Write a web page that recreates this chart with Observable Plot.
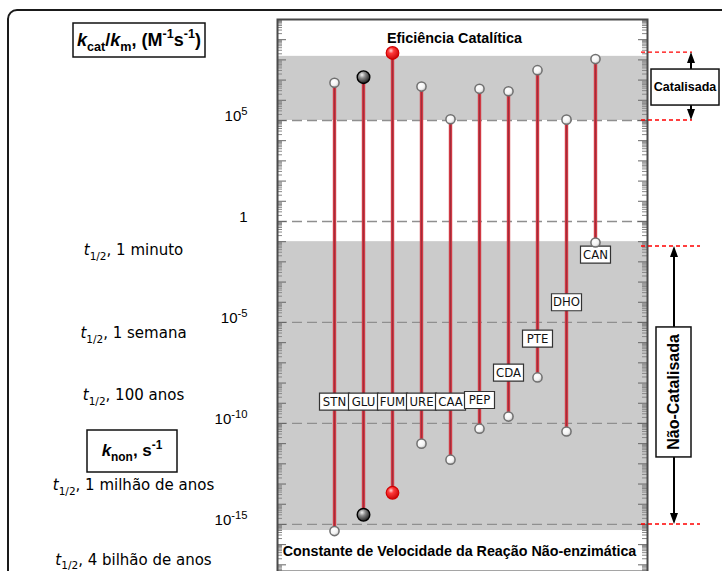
<!DOCTYPE html>
<html><head><meta charset="utf-8">
<script src="https://cdn.jsdelivr.net/npm/d3@7"></script>
<script src="https://cdn.jsdelivr.net/npm/@observablehq/plot@0.6"></script>
<style>
body{margin:0;background:#fff;}
#chart{position:relative;width:722px;height:571px;overflow:hidden;}
</style></head>
<body>
<svg width="0" height="0" style="position:absolute">
<defs>
<radialGradient id="gWhite" cx="38%" cy="35%" r="70%"><stop offset="0" stop-color="#ffffff"/><stop offset="0.6" stop-color="#f3f3f3"/><stop offset="1" stop-color="#b8b8b8"/></radialGradient>
<radialGradient id="gRed" cx="38%" cy="32%" r="75%"><stop offset="0" stop-color="#ffd6d6"/><stop offset="0.3" stop-color="#ff3a3a"/><stop offset="1" stop-color="#c40000"/></radialGradient>
<radialGradient id="gBlack" cx="38%" cy="32%" r="75%"><stop offset="0" stop-color="#f2f2f2"/><stop offset="0.35" stop-color="#8a8a8a"/><stop offset="1" stop-color="#0e0e0e"/></radialGradient>
</defs></svg>
<div id="chart"></div>
<script>
// ---- data ----
const enzymes = ["STN","GLU","FUM","URE","CAA","PEP","CDA","PTE","DHO","CAN"];
const kcatKm  = [7.4e6, 1.4e7, 2.2e8, 4.8e6, 1.15e5, 3.7e6, 2.8e6, 3.1e7, 1.1e5, 1.1e8];
const knon    = [4.7e-16, 3.0e-15, 3.7e-14, 1.0e-11, 1.6e-12, 5.5e-11, 2.2e-10, 1.9e-8, 4.0e-11, 9.1e-2];
const labelAt = [1.2e-9, 1.2e-9, 1.2e-9, 1.2e-9, 1.2e-9, 1.45e-9, 3.3e-8, 1.6e-6, 1.0e-4, 2.3e-2];
const markerKind = ["white","black","red","white","white","white","white","white","white","white"];
const halfLifeText = ["1 minuto","1 semana","100 anos","1 milhão de anos","4 bilhão de anos"];
const halfLifeAt = [3.6e-2, 2.9e-6, 2.5e-9, 8.5e-14, 1.7e-17];
const tickValues = [1e5, 1, 1e-5, 1e-10, 1e-15];
const tickLabels = ["10^5","1","10^-5","10^-10","10^-15"];
const catalyzedBand = [1e5, 1.5e8];
const uncatalyzedBand = [5e-16, 1e-1];
const catalyzedRange = [1e5, 2.3e8];
const uncatalyzedRange = [1e-15, 5.8e-2];

const rows = enzymes.map((name, i) => ({name, kcat: kcatKm[i], knon: knon[i], label: labelAt[i], kind: markerKind[i]}));
const halfLives = halfLifeText.map((t, i) => ({text: "t1/2, " + t, k: halfLifeAt[i]}));

// minor/major log ticks on the panel edges (scale decoration)
const majorTicks = [], minorTicks = [];
for (let e = -18; e <= 10; e++) for (let m = 1; m <= 9; m++) {
  const v = m * Math.pow(10, e);
  if (v < Math.pow(10, -17.33) || v > 1e10) continue;
  (m === 1 ? majorTicks : minorTicks).push(v);
}

const W = 722, H = 571, ML = 277, MR = 75, MT = 19, MB = 0;
const PW = W - ML - MR;
const boxSymbol = {draw(ctx) { ctx.rect(-15, -8.5, 30, 17); }};
const narrow = "'Liberation Sans Narrow','DejaVu Sans Condensed','Liberation Sans',sans-serif";

const chart = Plot.plot({
  width: W, height: H, marginLeft: ML, marginRight: MR, marginTop: MT, marginBottom: MB,
  style: {background: "transparent", fontFamily: "'Liberation Sans', Arial, sans-serif", color: "#000", overflow: "visible"},
  x: {type: "point", domain: enzymes, padding: 1.86, align: 0.52, axis: null},
  y: {type: "log", domain: [Math.pow(10, -17.33), 1e10]},
  marks: [
    Plot.rect([catalyzedBand, uncatalyzedBand], {y1: d => d[0], y2: d => d[1], fill: "#cbcbcb"}),
    Plot.ruleY(tickValues, {stroke: "#8f8f8f", strokeDasharray: "10,5", strokeWidth: 1.3}),
    Plot.tickY(majorTicks, {stroke: "#666", insetRight: PW - 9}),
    Plot.tickY(minorTicks, {stroke: "#888", insetRight: PW - 5}),
    Plot.tickY(majorTicks, {stroke: "#666", insetLeft: PW - 9}),
    Plot.tickY(minorTicks, {stroke: "#888", insetLeft: PW - 5}),
    Plot.axisY({ticks: tickValues, tickSize: 0, tickPadding: 30, fontSize: 15, dy: -4, label: null,
      tickFormat: d => tickLabels[tickValues.indexOf(d)]}),
    Plot.ruleX(rows, {x: "name", y1: "knon", y2: "kcat", stroke: "#d03a44", strokeWidth: 3.4}),
    Plot.ruleX(rows, {x: "name", y1: "knon", y2: "kcat", stroke: "#962838", strokeWidth: 0.8}),
    Plot.dot(rows, {x: "name", y: "label", symbol: boxSymbol, fill: "white", stroke: "#333", strokeWidth: 1.2}),
    Plot.text(rows, {x: "name", y: "label", text: "name", fontSize: 13, fontFamily: narrow, fill: "#111"}),
    Plot.dot(rows.filter(d => d.kind === "white"), {x: "name", y: "kcat", r: 4.6, fill: "url(#gWhite)", stroke: "#707070"}),
    Plot.dot(rows.filter(d => d.kind === "white"), {x: "name", y: "knon", r: 4.6, fill: "url(#gWhite)", stroke: "#707070"}),
    Plot.dot(rows.filter(d => d.kind === "black"), {x: "name", y: "kcat", r: 6.3, fill: "url(#gBlack)", stroke: "#000", strokeWidth: 1.4}),
    Plot.dot(rows.filter(d => d.kind === "black"), {x: "name", y: "knon", r: 6.3, fill: "url(#gBlack)", stroke: "#000", strokeWidth: 1.4}),
    Plot.dot(rows.filter(d => d.kind === "red"), {x: "name", y: "kcat", r: 6.3, fill: "url(#gRed)", stroke: "#d00000", strokeWidth: 1.2}),
    Plot.dot(rows.filter(d => d.kind === "red"), {x: "name", y: "knon", r: 6.3, fill: "url(#gRed)", stroke: "#d00000", strokeWidth: 1.2}),
    Plot.text(["Eficiência Catalítica"], {frameAnchor: "top", lineAnchor: "middle", dy: 18.5, dx: -8, fontWeight: "bold", fontSize: 14.4}),
    Plot.text(["Constante de Velocidade da Reação Não-enzimática"], {frameAnchor: "bottom", lineAnchor: "middle", dy: -20, dx: -3, fontWeight: "bold", fontSize: 14.3}),
    Plot.text(halfLives, {y: "k", text: "text", frameAnchor: "left", textAnchor: "middle", dx: -144, fontSize: 15, fontFamily: "'DejaVu Sans', sans-serif"}),
    Plot.frame({stroke: "#4a4a4a", strokeWidth: 2})
  ]
});
document.getElementById("chart").append(chart);

const svg = d3.select(chart);
const yS = chart.scale("y");

function setRich(sel, parts, size, scl = 0.7) {
  sel.text("");
  let shift = 0;
  for (const p of parts) {
    const target = p.sub ? 0.3 * size : p.sup ? -0.42 * size : 0;
    const span = sel.append("tspan").text(p.t);
    if (target !== shift) span.attr("dy", target - shift);
    shift = target;
    if (p.sub || p.sup) span.attr("font-size", scl * size);
    if (p.i) span.attr("font-style", "italic");
  }
}

// outer rounded border
svg.insert("rect", "g").attr("x", 8).attr("y", 10).attr("width", 800).attr("height", 700)
  .attr("rx", 9).attr("fill", "none").attr("stroke", "#1a1a1a").attr("stroke-width", 2);

// tick labels with superscripts
svg.selectAll("g[aria-label='y-axis tick label'] text").each(function () {
  const s = d3.select(this), txt = s.text();
  s.attr("font-size", 15);
  if (txt.startsWith("10^")) setRich(s, [{t: "10"}, {t: txt.slice(3), sup: true}], 15, 0.75);
});
// half-life labels
svg.selectAll("text").each(function () {
  const s = d3.select(this), txt = s.text();
  if (txt.startsWith("t1/2, ") && this.childElementCount === 0)
    setRich(s, [{t: "t", i: true}, {t: "1/2", sub: true}, {t: ", " + txt.slice(6)}], 15);
});

const ann = svg.append("g").attr("font-family", "'Liberation Sans', Arial, sans-serif").attr("font-weight", "bold");
// left header boxes
ann.append("rect").attr("x", 73).attr("y", 23).attr("width", 132).attr("height", 34).attr("fill", "#fff").attr("stroke", "#111").attr("stroke-width", 1.5);
setRich(ann.append("text").attr("x", 139).attr("y", 46).attr("text-anchor", "middle").attr("font-size", 18),
  [{t: "k", i: true}, {t: "cat", sub: true}, {t: "/"}, {t: "k", i: true}, {t: "m", sub: true}, {t: ", (M"}, {t: "-1", sup: true}, {t: "s"}, {t: "-1", sup: true}, {t: ")"}], 18);
ann.append("rect").attr("x", 87).attr("y", 430).attr("width", 90).attr("height", 42).attr("fill", "#fff").attr("stroke", "#111").attr("stroke-width", 1.5);
setRich(ann.append("text").attr("x", 132).attr("y", 456).attr("text-anchor", "middle").attr("font-size", 17),
  [{t: "k", i: true}, {t: "non", sub: true}, {t: ", s"}, {t: "-1", sup: true}], 17);

// right side range annotations
function rangeAnnot(range, xArrow, dashEnd, box, label, rotated, fontSize, boxShift) {
  const yTop = yS.apply(range[1]), yBot = yS.apply(range[0]);
  for (const yy of [yTop, yBot])
    ann.append("line").attr("x1", 641).attr("x2", dashEnd).attr("y1", yy).attr("y2", yy)
      .attr("stroke", "#ff0000").attr("stroke-width", 1.4).attr("stroke-dasharray", "4,3");
  const cy = (yTop + yBot) / 2 + boxShift;
  const bTop = cy - box.h / 2, bBot = cy + box.h / 2;
  ann.append("line").attr("x1", xArrow).attr("x2", xArrow).attr("y1", bTop).attr("y2", yTop + 8).attr("stroke", "#000").attr("stroke-width", 2);
  ann.append("line").attr("x1", xArrow).attr("x2", xArrow).attr("y1", bBot).attr("y2", yBot - 8).attr("stroke", "#000").attr("stroke-width", 2);
  ann.append("path").attr("d", `M${xArrow},${yTop}L${xArrow - 4},${yTop + 11}L${xArrow + 4},${yTop + 11}Z`).attr("fill", "#000");
  ann.append("path").attr("d", `M${xArrow},${yBot}L${xArrow - 4},${yBot - 11}L${xArrow + 4},${yBot - 11}Z`).attr("fill", "#000");
  ann.append("rect").attr("x", box.x).attr("y", bTop).attr("width", box.w).attr("height", box.h)
    .attr("fill", "#fff").attr("stroke", "#111").attr("stroke-width", 1.5);
  const tx = box.x + box.w / 2;
  const t = ann.append("text").attr("text-anchor", "middle").attr("font-size", fontSize).attr("dy", "0.35em").text(label);
  if (rotated) t.attr("transform", `translate(${tx},${cy}) rotate(-90)`);
  else t.attr("x", tx).attr("y", cy);
}
rangeAnnot(catalyzedRange, 691, 692, {x: 651, w: 68, h: 36}, "Catalisada", false, 12.5, 1);
rangeAnnot(uncatalyzedRange, 674, 700, {x: 656, w: 35, h: 130}, "Não-Catalisada", true, 16, 7);
</script>
</body></html>
